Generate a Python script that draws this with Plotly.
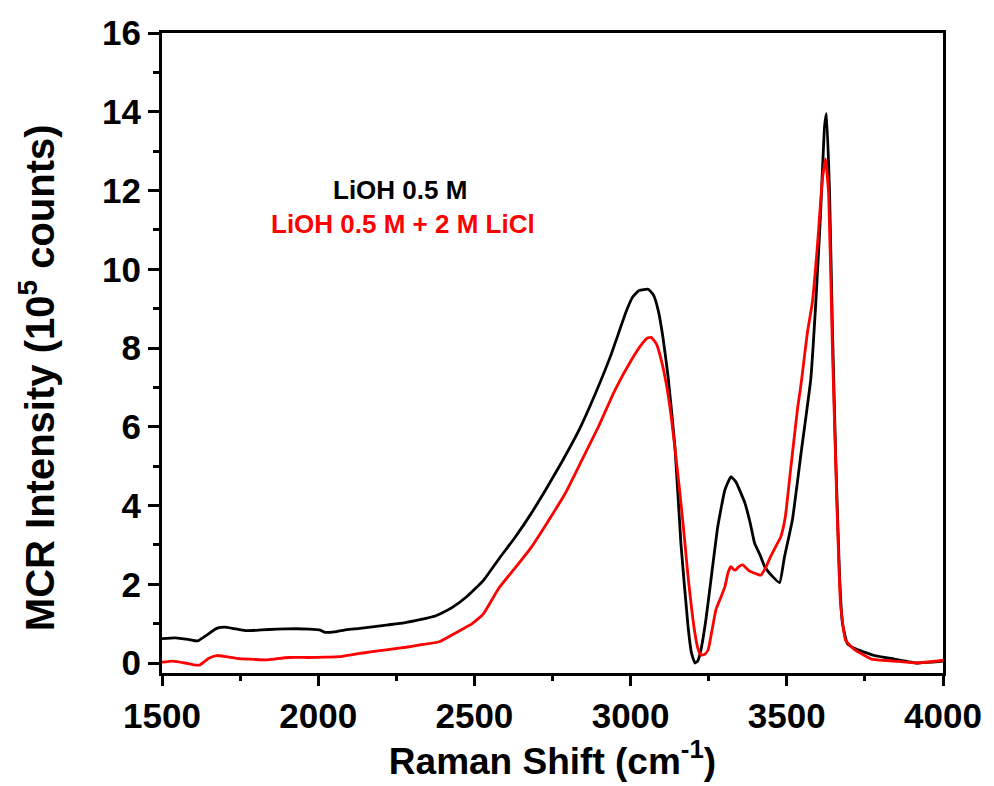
import plotly.graph_objects as go

# Black: LiOH 0.5 M
x_black = [1500, 1543, 1584, 1614, 1645, 1675, 1701, 1726, 1767, 1818, 1868, 1929, 1970, 2004,
           2021, 2051, 2092, 2133, 2173, 2224, 2275, 2326, 2377, 2427, 2478, 2529, 2580, 2631, 2682,
           2732, 2783, 2834, 2885, 2936, 2987, 3007, 3027, 3057, 3073, 3088, 3103, 3120, 3142, 3161,
           3184, 3195, 3206, 3215, 3225, 3241, 3257, 3279, 3302, 3321, 3337, 3366, 3383, 3397, 3414,
           3429, 3454, 3477, 3492, 3518, 3545, 3577, 3593, 3608, 3621, 3627, 3637, 3646, 3657, 3669,
           3678, 3694, 3726, 3780, 3844, 3917, 3963, 4000]
y_black = [0.62, 0.64, 0.60, 0.56, 0.72, 0.88, 0.91, 0.88, 0.82, 0.84, 0.86, 0.87, 0.86, 0.84,
           0.78, 0.79, 0.85, 0.88, 0.92, 0.97, 1.02, 1.10, 1.20, 1.40, 1.70, 2.10, 2.66, 3.20, 3.80,
           4.45, 5.15, 5.90, 6.80, 7.80, 8.95, 9.30, 9.46, 9.49, 9.35, 8.97, 8.30, 7.27, 5.49, 3.04,
           0.92, 0.25, 0.00, 0.05, 0.33, 1.10, 2.10, 3.46, 4.40, 4.73, 4.60, 4.06, 3.55, 3.04, 2.75,
           2.45, 2.20, 2.04, 2.67, 3.64, 5.29, 7.23, 9.17, 11.40, 13.64, 13.95, 11.89, 8.50, 5.10, 2.18,
           1.02, 0.49, 0.34, 0.19, 0.10, 0.00, 0.02, 0.05]

# Red: LiOH 0.5 M + 2 M LiCl
x_red = [1500, 1535, 1574, 1604, 1621, 1650, 1675, 1706, 1748, 1797, 1835, 1868, 1908, 1970,
         2021, 2068, 2123, 2173, 2224, 2281, 2326, 2387, 2441, 2493, 2529, 2578, 2631, 2683, 2732,
         2791, 2844, 2897, 2950, 3003, 3034, 3053, 3066, 3083, 3098, 3114, 3130, 3144, 3158, 3172,
         3184, 3195, 3206, 3215, 3225, 3237, 3248, 3261, 3273, 3288, 3302, 3312, 3321, 3329, 3336,
         3347, 3359, 3378, 3397, 3417, 3434, 3448, 3464, 3481, 3495, 3512, 3535, 3545, 3566, 3582,
         3598, 3614, 3624, 3634, 3646, 3660, 3672, 3688, 3717, 3771, 3844, 3917, 4000]
y_red = [0.02, 0.05, 0.00, -0.05, -0.05, 0.12, 0.19, 0.16, 0.11, 0.09, 0.08, 0.11, 0.14, 0.14,
         0.15, 0.16, 0.23, 0.29, 0.34, 0.40, 0.46, 0.54, 0.77, 1.00, 1.25, 1.90, 2.42, 2.95, 3.55,
         4.31, 5.15, 6.00, 6.93, 7.70, 8.08, 8.25, 8.27, 8.10, 7.70, 7.10, 6.26, 5.30, 4.31, 3.20,
         2.19, 1.40, 0.75, 0.38, 0.20, 0.22, 0.33, 0.85, 1.35, 1.65, 1.94, 2.30, 2.45, 2.38, 2.36,
         2.45, 2.49, 2.35, 2.28, 2.23, 2.45, 2.70, 2.95, 3.21, 3.70, 4.90, 6.50, 7.04, 8.40, 9.17,
         10.60, 12.28, 12.80, 11.90, 8.00, 4.13, 1.50, 0.58, 0.34, 0.10, 0.05, 0.00, 0.07]

label_black = "LiOH 0.5 M"
label_red = "LiOH 0.5 M + 2 M LiCl"
x_title = "Raman Shift (cm<sup>-1</sup>)"
y_title = "MCR Intensity (10<sup>5</sup> counts)"

FONT = "Liberation Sans, Arial, sans-serif"

fig = go.Figure()
fig.add_trace(go.Scatter(x=x_black, y=y_black, mode="lines", name=label_black,
                         line=dict(color="black", width=2.8, shape="spline", smoothing=0.4)))
fig.add_trace(go.Scatter(x=x_red, y=y_red, mode="lines", name=label_red,
                         line=dict(color="#ff0000", width=2.8, shape="spline", smoothing=0.4)))

fig.add_annotation(x=0.305, y=0.755, xref="paper", yref="paper", xanchor="center", yanchor="middle",
                   text=label_black, showarrow=False,
                   font=dict(family=FONT, size=26, color="black", weight="bold"))
fig.add_annotation(x=0.309, y=0.701, xref="paper", yref="paper", xanchor="center", yanchor="middle",
                   text=label_red, showarrow=False,
                   font=dict(family=FONT, size=26, color="#ff0000", weight="bold"))

# y-axis title drawn as rotated text, placed where the reference has it
fig.add_annotation(x=-0.159, y=0.462, xref="paper", yref="paper", xanchor="center", yanchor="middle",
                   text=y_title, textangle=-90, showarrow=False,
                   font=dict(family=FONT, size=40, color="black", weight="bold"))

axis_common = dict(
    showline=True, linecolor="black", linewidth=3, mirror=True,
    ticks="outside", tickcolor="black", tickwidth=2.5,
    showgrid=False, zeroline=False,
    tickfont=dict(family=FONT, size=35, color="black", weight="bold"),
)

fig.update_xaxes(range=[1500, 4000], dtick=500, tick0=1500, ticklen=10,
                 minor=dict(dtick=250, ticks="outside", ticklen=5, tickwidth=2.5, tickcolor="black"),
                 title=dict(text=x_title,
                            font=dict(family=FONT, size=37, color="black", weight="bold"), standoff=6),
                 **axis_common)
fig.update_yaxes(range=[-0.254, 16], dtick=2, tick0=0, ticklen=11,
                 minor=dict(dtick=1, ticks="outside", ticklen=6, tickwidth=2.5, tickcolor="black"),
                 **axis_common)

fig.update_layout(width=994, height=786, showlegend=False,
                  plot_bgcolor="white", paper_bgcolor="white",
                  margin=dict(l=162, r=48, t=33, b=113))

fig.write_html("out.html")
